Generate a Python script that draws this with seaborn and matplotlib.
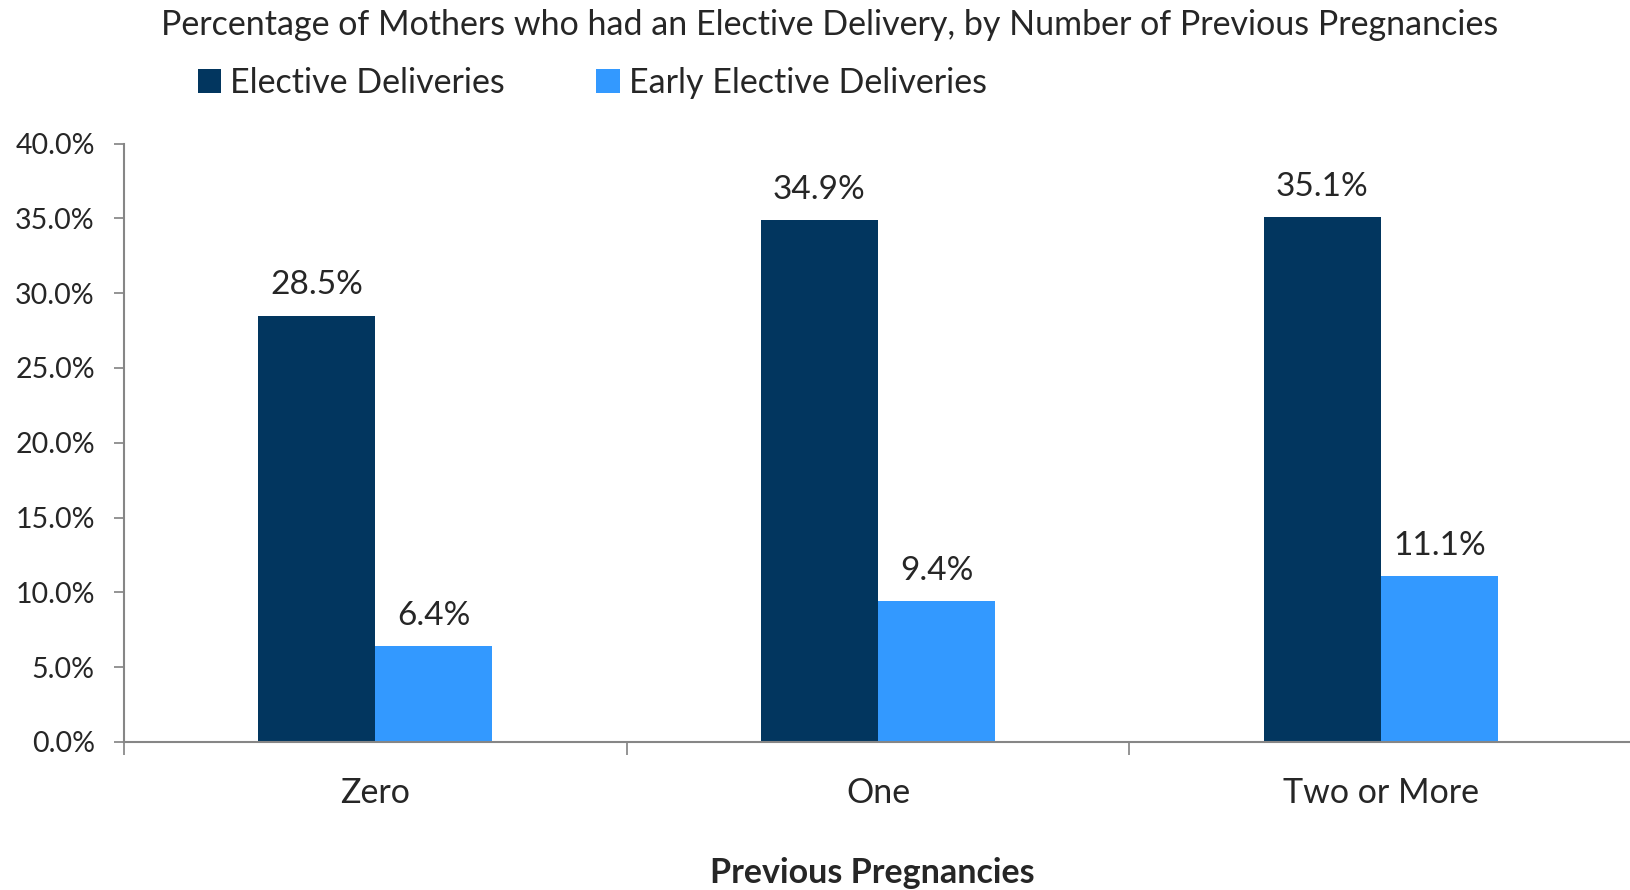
import matplotlib
matplotlib.use("Agg")
import matplotlib.pyplot as plt
import seaborn as sns
import pandas as pd
from matplotlib.patches import Patch

categories = ["Zero", "One", "Two or More"]
series_names = ["Elective Deliveries", "Early Elective Deliveries"]
elective = [28.5, 34.9, 35.1]
early_elective = [6.4, 9.4, 11.1]
y_ticks = [0, 5, 10, 15, 20, 25, 30, 35, 40]
colors = ["#02365F", "#3399FF"]

sns.set_theme(style="white")
plt.rcParams["font.family"] = ["Lato", "DejaVu Sans"]

df = pd.DataFrame({
    "Category": categories * 2,
    "Series": [series_names[0]] * 3 + [series_names[1]] * 3,
    "Value": elective + early_elective,
})

fig = plt.figure(figsize=(16.3, 8.9), dpi=100)
ax = fig.add_axes([124 / 1630, 1 - 742 / 890, 1 - 122 / 1630, (742 - 143.5) / 890])

sns.barplot(data=df, x="Category", y="Value", hue="Series", order=categories,
            hue_order=series_names, palette=colors, width=0.466, saturation=1,
            errorbar=None, ax=ax, legend=False, linewidth=0)

for cont in ax.containers:
    ax.bar_label(cont, labels=[f"{v:.1f}%" for v in cont.datavalues],
                 padding=11, fontsize=24)

ax.set_xlim(-0.5, 2.5)
ax.set_ylim(0, 40)
ax.set_yticks(y_ticks)
ax.set_yticklabels([f"{v:.1f}%" for v in y_ticks], fontsize=20.5)
ax.set_xticks([-0.5, 0.5, 1.5, 2.5])
ax.set_xticklabels([])
ax.set_xticks([0, 1, 2], minor=True)
ax.set_xticklabels(categories, minor=True, fontsize=24.5)
ax.tick_params(axis="x", which="minor", length=0, pad=25)
ax.tick_params(axis="x", which="major", length=9, color="#868686", direction="out", bottom=True)
ax.tick_params(axis="y", length=7, color="#868686", direction="out", left=True, pad=14)
ax.set_xlabel("")
ax.set_ylabel("")
for s in ["top", "right"]:
    ax.spines[s].set_visible(False)
for s in ["left", "bottom"]:
    ax.spines[s].set_color("#868686")
    ax.spines[s].set_linewidth(1.5)

fig.text(830 / 1630, 1 - 25 / 890, "Percentage of Mothers who had an Elective Delivery, by Number of Previous Pregnancies",
         ha="center", va="center", fontsize=24.5)
fig.text(872 / 1630, 1 - 873 / 890, "Previous Pregnancies", ha="center", va="center",
         fontsize=24.5, fontweight="bold")

handles = [Patch(facecolor=c, edgecolor="none") for c in colors]
fig.legend(handles, series_names, loc="center left", bbox_to_anchor=(197.5 / 1630, 1 - 83 / 890),
           ncol=2, frameon=False, fontsize=24.5, handlelength=0.7, handleheight=0.7,
           handletextpad=0.25, columnspacing=2.7, borderaxespad=0, borderpad=0)

fig.savefig("out.png", dpi=100)
